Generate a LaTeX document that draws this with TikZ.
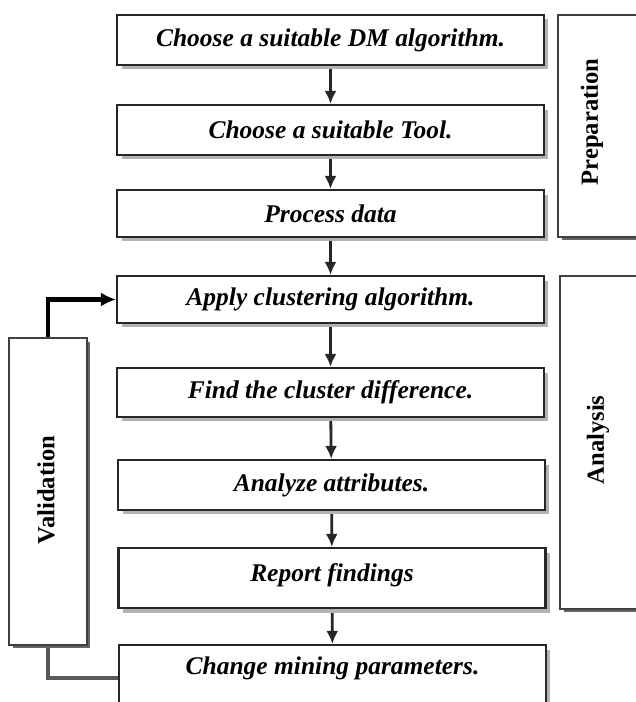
\documentclass[tikz,border=0pt]{standalone}
\usepackage{fontspec}
\setmainfont{Liberation Serif}
\usetikzlibrary{shadows}
\usetikzlibrary{arrows.meta}
\pgfdeclarelayer{edgelayer}
\pgfdeclarelayer{nodelayer}
\pgfsetlayers{edgelayer,nodelayer,main}
\tikzstyle{none}=[inner sep=0pt]
\tikzstyle{stepbox}=[rectangle,fill=white,draw=black!85,line width=1.2pt,minimum width=8.54cm,font=\bfseries\itshape\fontsize{14.5}{16}\selectfont,drop shadow={shadow xshift=0.09cm,shadow yshift=-0.09cm,fill=black!30,opacity=1}]
\tikzstyle{phase}=[rectangle,fill=white,draw=black!75,line width=1pt,drop shadow={shadow xshift=0.07cm,shadow yshift=-0.07cm,fill=black!60,opacity=1}]
\tikzstyle{phaselabel}=[inner sep=0pt,rotate=90,font=\bfseries\fontsize{14}{16}\selectfont]
\tikzstyle{flow}=[-{Latex[length=0.26cm,width=0.24cm]},draw=black!85,line width=1.6pt]
\tikzstyle{loopback}=[-{Latex[length=0.3cm,width=0.28cm]},draw=black,line width=2.4pt]
\tikzstyle{loopline}=[draw=black!65,line width=2.4pt]

\begin{document}
\begin{tikzpicture}[x=0.02cm,y=-0.02cm]
	\clip (0,0) rectangle (635,702);
	\useasboundingbox (0,0) rectangle (635,702);
	\begin{pgfonlayer}{nodelayer}
		\node [style=stepbox,minimum height=1.00cm] (0) at (330.5, 40) {Choose a suitable DM algorithm.};
		\node [style=stepbox,minimum height=1.00cm] (1) at (330.5, 130) {Choose a suitable Tool.};
		\node [style=stepbox,minimum height=0.94cm] (2) at (330.5, 213.5) {Process data};
		\node [style=stepbox,minimum height=0.94cm] (3) at (330.5, 299.5) {Apply clustering algorithm.};
		\node [style=stepbox,minimum height=0.98cm] (4) at (330.5, 392.5) {Find the cluster difference.};
		\node [style=stepbox,minimum height=1.00cm] (5) at (331.5, 485) {Analyze attributes.};
		\node [style=stepbox,minimum height=1.20cm,text depth=0.2cm] (6) at (332, 578) {Report findings};
		\node [style=stepbox,minimum height=1.32cm,text depth=0.5cm] (7) at (332.5, 678) {Change mining parameters.};
		\node [style=phase,minimum width=1.84cm,minimum height=4.44cm] (8) at (604, 126) {};
		\node [style=phase,minimum width=1.80cm,minimum height=6.66cm] (9) at (605, 442.5) {};
		\node [style=phase,minimum width=1.56cm,minimum height=6.14cm] (10) at (48, 491.5) {};
		\node [style=phaselabel] (11) at (592, 122) {Preparation};
		\node [style=phaselabel] (12) at (598, 440) {Analysis};
		\node [style=phaselabel] (13) at (46, 490) {Validation};
	\end{pgfonlayer}
	\begin{pgfonlayer}{edgelayer}
		\draw [style=flow] (0) to (1);
		\draw [style=flow] (1) to (2);
		\draw [style=flow] (2) to (3);
		\draw [style=flow] (3) to (4);
		\draw [style=flow] (4) to (5);
		\draw [style=flow] (5) to (6);
		\draw [style=flow] (6) to (7);
		\draw [style=loopback] (10.north) |- (3.west);
		\draw [style=loopline] (10.south) |- (7.west);
	\end{pgfonlayer}
\end{tikzpicture}
\end{document}
